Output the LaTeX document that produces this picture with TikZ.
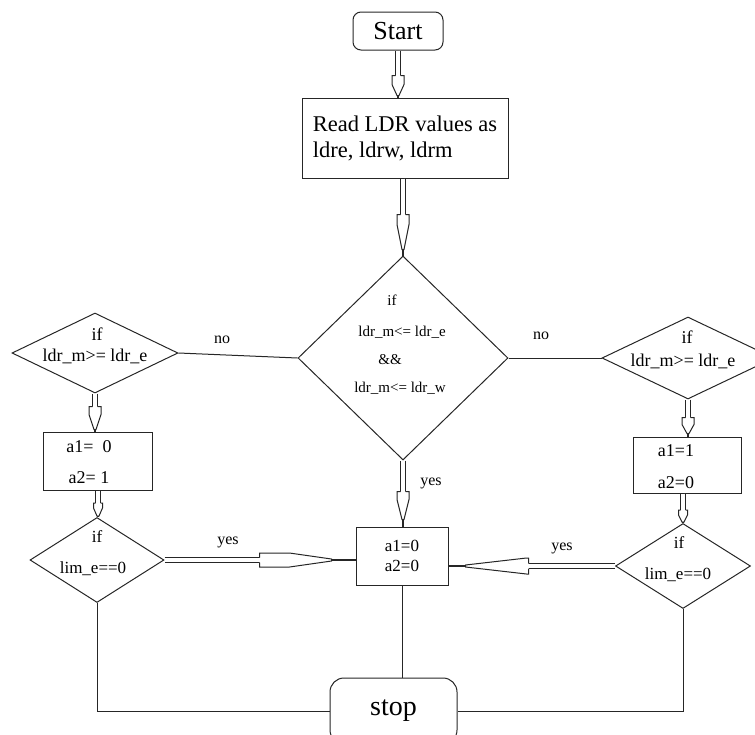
\documentclass[tikz,border=0pt]{standalone}
\usepackage{fontspec}
\setmainfont{Liberation Serif}
\usetikzlibrary{shapes.geometric,calc}
\tikzset{
  ln/.style={draw=black!85, line width=1pt},
  boxnode/.style={ln, rectangle, inner sep=0pt},
  decision/.style={ln, diamond, inner sep=0pt},
  fs/.style 2 args={inner sep=0pt, font=\fontsize{#1}{#2}\selectfont},
  lbl/.style={inner sep=0pt, font=\fontsize{16}{16}\selectfont},
}
% block arrow: start, end, shoulder dist, taper dist, gap dist, half width
\newcommand\barrow[6]{%
  \coordinate (ba) at ($#2!#3!#1$);
  \coordinate (bb) at ($#2!#4!#1$);
  \coordinate (bc) at ($#2!#5!#1$);
  \draw[ln, double, double distance=4pt] #1 -- (ba);
  \draw[ln, fill=white] ($(ba)!2.5pt!90:#2$) -- ($(ba)!#6!90:#2$) -- ($(bb)!#6!90:#2$) -- ($(bc)!1pt!90:#2$) -- ($(bc)!1pt!-90:#2$) -- ($(bb)!#6!-90:#2$) -- ($(ba)!#6!-90:#2$) -- ($(ba)!2.5pt!-90:#2$);
  \draw[ln, line width=1.6pt] (bc) -- #2;
}
\begin{document}
\begin{tikzpicture}[x=1pt,y=-1pt]
\useasboundingbox (0,0) rectangle (755,734);
% nodes
\node[boxnode, rounded corners=8pt, minimum width=90pt, minimum height=38pt, fs={26}{30}] (st) at (398,31) {Start};
\node[boxnode, minimum width=206pt, minimum height=80pt, fs={22.5}{26}, align=left] (rd) at (405,138) {Read LDR values as\\ldre, ldrw, ldrm};
\node[decision, minimum width=210pt, minimum height=204pt] (cd) at (403,358) {};
\node[fs={15}{15}] (c1) at (392,300) {if};
\node[fs={15}{15}] (c2) at (402,332) {ldr\_m<= ldr\_e};
\node[fs={15}{15}] (c3) at (390,360) {\&\&};
\node[fs={15}{15}] (c4) at (400,388) {ldr\_m<= ldr\_w};
\node[decision, minimum width=166pt, minimum height=80pt] (ld) at (95,353) {};
\node[fs={18}{18}] (l1) at (97,334) {if};
\node[fs={18}{18}] (l2) at (95,356) {ldr\_m>= ldr\_e};
\node[decision, minimum width=172pt, minimum height=82pt] (rdm) at (688,358) {};
\node[fs={18}{18}] (r1) at (687,337) {if};
\node[fs={18}{18}] (r2) at (683,361) {ldr\_m>= ldr\_e};
\node[boxnode, minimum width=109pt, minimum height=58pt] (lb) at (98,461) {};
\node[fs={18}{31}, align=center] (lbt) at (89,462) {a1=\ \ 0\\a2= 1};
\node[boxnode, minimum width=108pt, minimum height=56pt] (rb) at (687,465) {};
\node[fs={18}{32}, align=center] (rbt) at (676,467) {a1=1\\a2=0};
\node[boxnode, minimum width=92pt, minimum height=58pt, fs={17}{20}, align=center] (cb) at (402,556) {a1=0\\a2=0};
\node[decision, minimum width=134pt, minimum height=85pt] (lld) at (97,560) {};
\node[fs={17}{17}] (ll1) at (97,537) {if};
\node[fs={17}{17}] (ll2) at (93,569) {lim\_e==0};
\node[decision, minimum width=135pt, minimum height=85pt] (lrd) at (683,566) {};
\node[fs={17}{17}] (lr1) at (679,543) {if};
\node[fs={17}{17}] (lr2) at (678,575) {lim\_e==0};
\node[boxnode, rounded corners=14pt, minimum width=127pt, minimum height=66pt, fs={28}{30}] (sp) at (393.5,711) {stop};
% labels
\node[lbl] (no1) at (222,340) {no};
\node[lbl] (no2) at (541,336) {no};
\node[lbl] (y1) at (431,483) {yes};
\node[lbl] (y2) at (228,542) {yes};
\node[lbl] (y3) at (562,548) {yes};
% block arrows
\barrow{(st.south)}{(st.south |- rd.north)}{22pt}{13pt}{2pt}{6pt}
\barrow{(cd.north |- rd.south)}{(cd.north)}{41pt}{31pt}{6pt}{6pt}
\barrow{(ld.south)}{(ld.south |- lb.north)}{25pt}{17pt}{2pt}{6pt}
\barrow{(lb.south)}{(lb.south |- lld.north)}{14pt}{9pt}{1pt}{4.5pt}
\barrow{(rdm.south)}{(rdm.south |- rb.north)}{19pt}{12pt}{3pt}{6pt}
\barrow{(rb.south -| lrd.north)}{(lrd.north)}{13pt}{8pt}{1pt}{4.5pt}
\barrow{(cd.south)}{(cd.south |- cb.north)}{35pt}{27pt}{7pt}{6pt}
\barrow{(lld.east)}{(lld.east -| cb.west)}{96pt}{66pt}{24pt}{7pt}
\barrow{(lrd.west)}{(lrd.west -| cb.east)}{80pt}{78pt}{17pt}{8pt}
% plain connectors
\draw[ln] (ld.east) -- (cd.west);
\draw[ln] (cd.east) -- (rdm.west);
\draw[ln] (cb.south) -- (cb.south |- sp.north);
\draw[ln] (lld.south) |- (sp.west);
\draw[ln] (lrd.south) |- (sp.east);
\end{tikzpicture}
\end{document}
